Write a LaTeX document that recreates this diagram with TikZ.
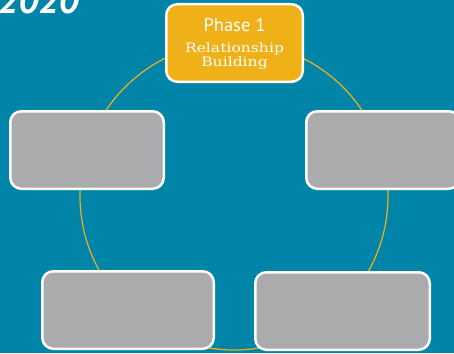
\documentclass[tikz,border=0pt]{standalone}
\usepackage{fontspec}
\newfontfamily\phasefont{PT Sans}
\newfontfamily\slabfont[FakeStretch=1.2]{DejaVu Serif}
\definecolor{teal}{HTML}{0085A8}
\definecolor{gold}{HTML}{EFB117}
\definecolor{stone}{HTML}{ABABAD}
\begin{document}
\begin{tikzpicture}[x=1pt,y=-1pt,
  phasebox/.style={draw=white, line width=2.5pt, rounded corners=11pt,
    inner sep=0pt},
  greybox/.style={phasebox, fill=stone},
  ringline/.style={draw=gold, line width=1.2pt},
  titletext/.style={anchor=base, inner sep=0pt, text=white,
    font=\phasefont\fontsize{18.5}{20}\selectfont},
  subtext/.style={anchor=base, inner sep=0pt, text=white,
    font=\slabfont\fontsize{13}{13}\selectfont}]
  % background
  \fill[teal] (0,0) rectangle (454,353);
  \useasboundingbox (0,0) rectangle (454,353);
  % year heading
  \node[anchor=base west, inner sep=0pt, text=white,
        font={\phasefont\bfseries\itshape\fontsize{37}{37}\selectfont}]
        (year) at (-2,13.5) {2020};
  % cycle ring
  \coordinate (hub) at (234,196);
  \draw[ringline] (hub) circle[radius=154];
  % phase boxes
  \node[phasebox, fill=gold, minimum width=136.5pt, minimum height=77.5pt]
    (p1) at (234.5,43) {};
  \node[greybox, minimum width=153.5pt, minimum height=77.5pt] (p2) at (383,150) {};
  \node[greybox, minimum width=174.5pt, minimum height=77.5pt] (p3) at (342.5,311) {};
  \node[greybox, minimum width=171.5pt, minimum height=77.5pt] (p4) at (128,310) {};
  \node[greybox, minimum width=153.5pt, minimum height=77.5pt] (p5) at (87,150) {};
  % label of the first phase (yshift points up the page)
  \node[titletext] (p1title) at ([yshift=11pt]p1.center) {Phase 1};
  \node[subtext] (p1line1) at ([yshift=-9.5pt]p1.center) {Relationship};
  \node[subtext] (p1line2) at ([yshift=-23pt]p1.center) {Building};
\end{tikzpicture}
\end{document}
